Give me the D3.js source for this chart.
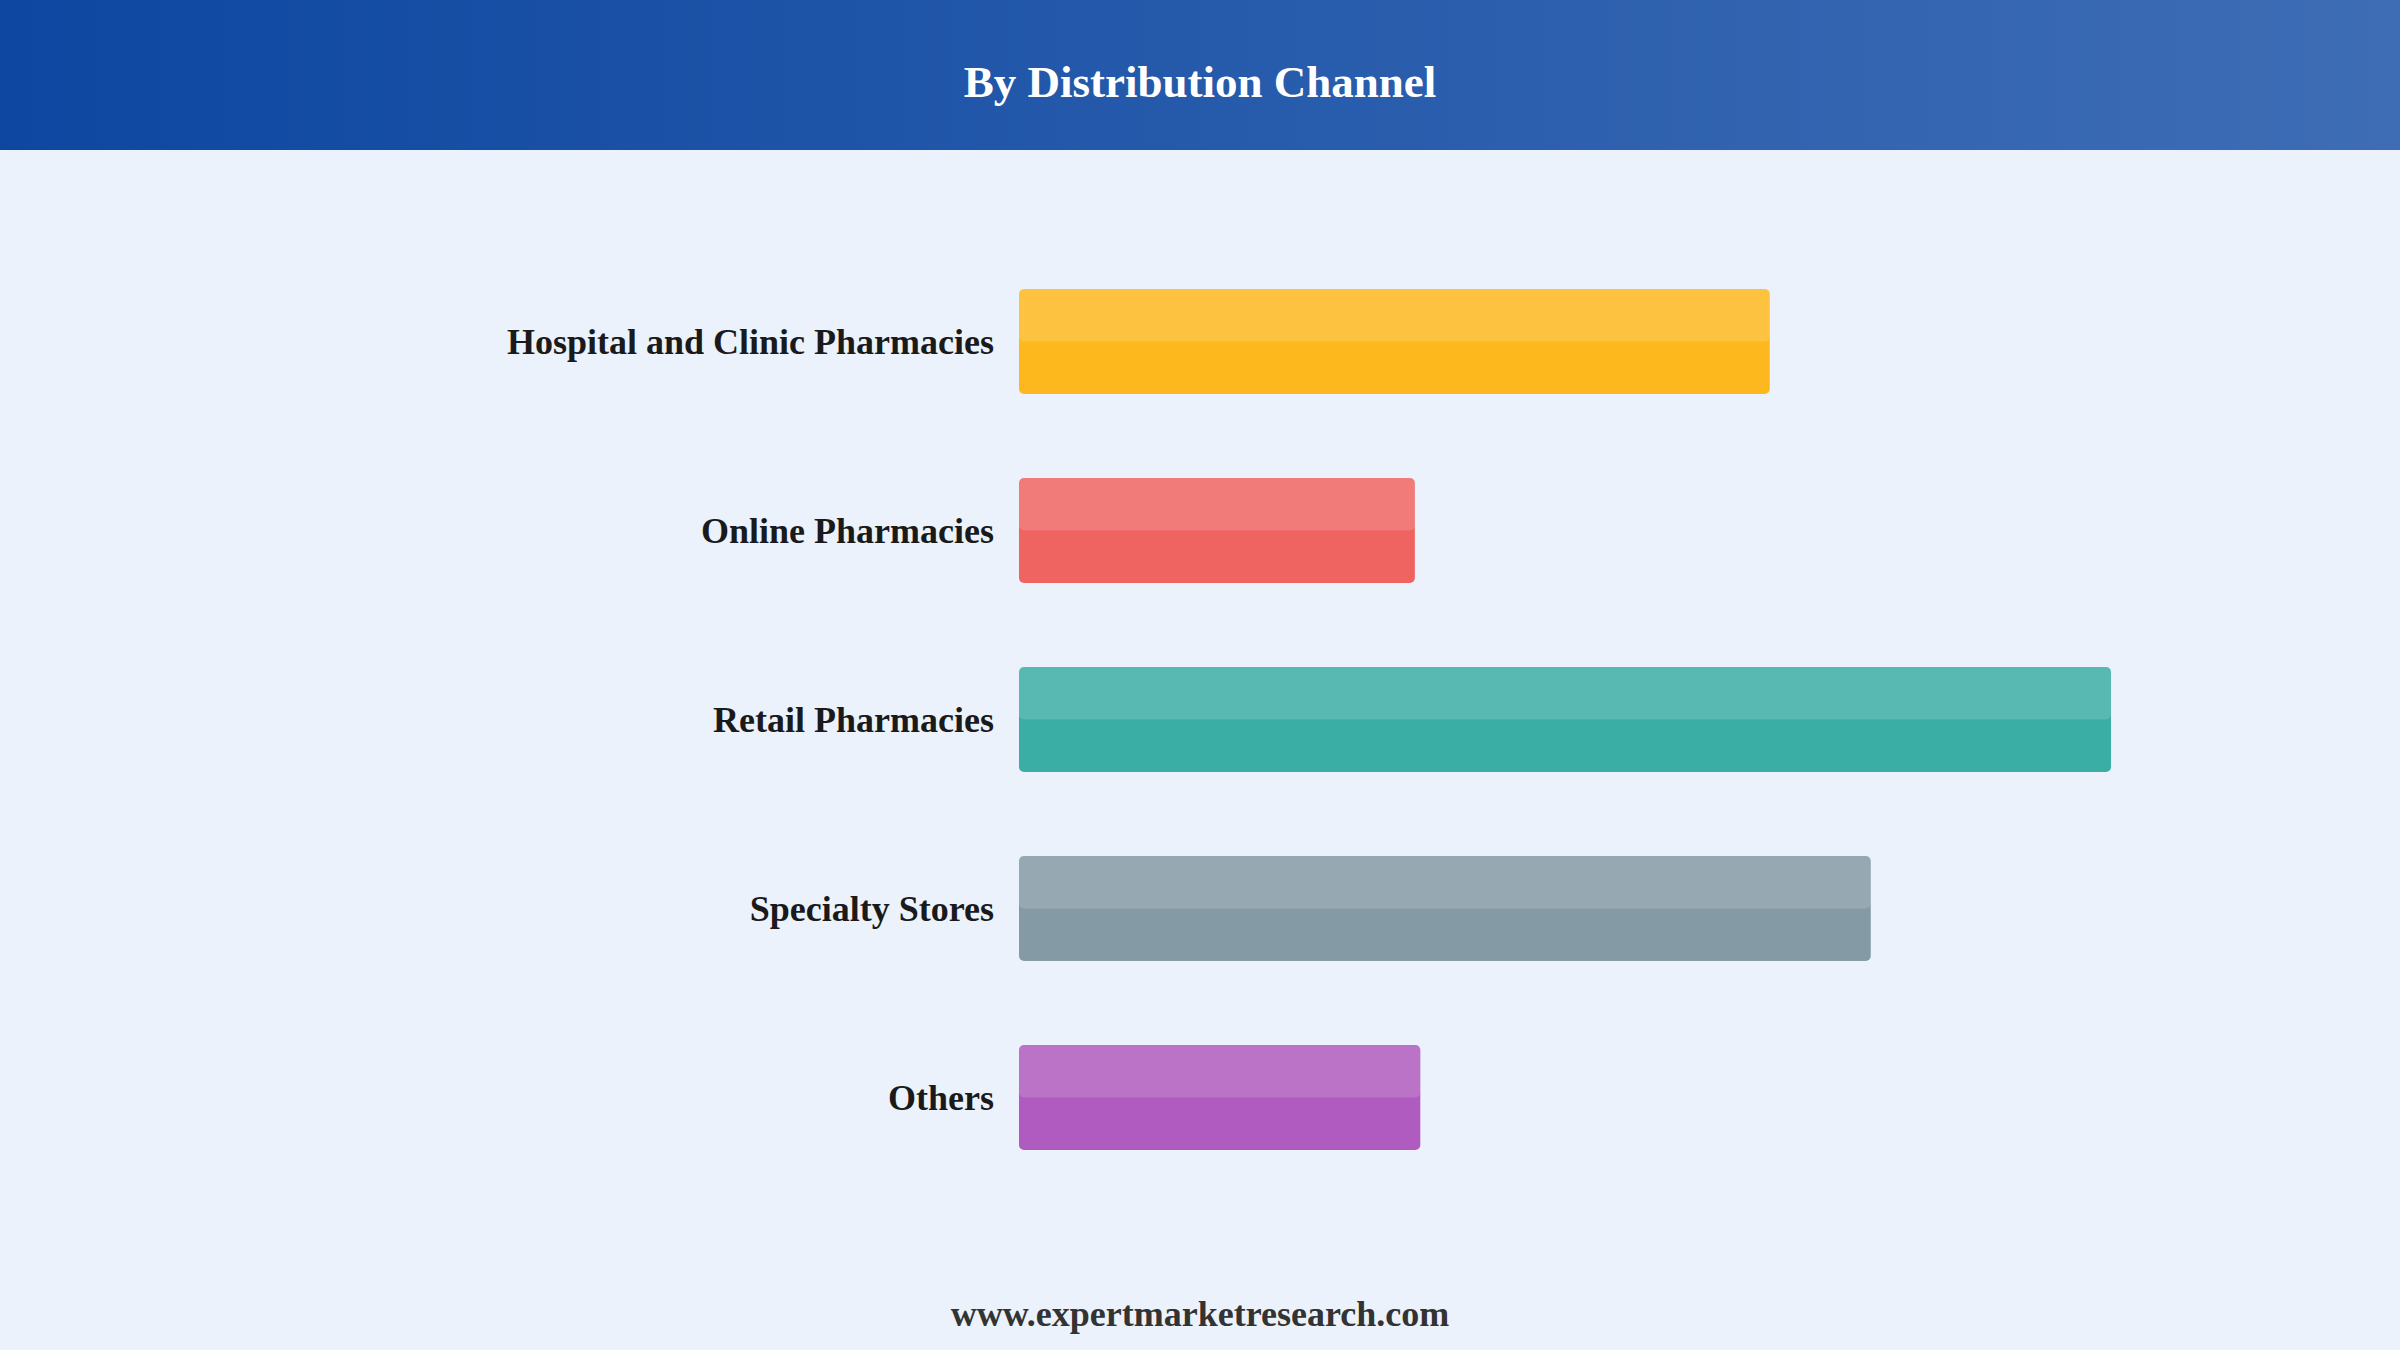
<!DOCTYPE html>
<html>
<head>
<meta charset="utf-8">
<script src="https://cdn.jsdelivr.net/npm/d3@7"></script>
<style>
  html, body { margin: 0; padding: 0; background: #ebf2fb; }
  svg { display: block; }
</style>
</head>
<body>
<svg id="chart" width="2400" height="1350"></svg>
<script>
// ---- data ----
const categories = ["Hospital and Clinic Pharmacies", "Online Pharmacies", "Retail Pharmacies", "Specialty Stores", "Others"];
const values = [27.5, 14.5, 40.0, 31.2, 14.7];
const barColors = ["#fdb81e", "#ef6461", "#3aada4", "#849ba5", "#b05bbf"];
const titleText = "By Distribution Channel";
const footerText = "www.expertmarketresearch.com";

// ---- layout ----
const W = 2400, H = 1350;
const svg = d3.select("#chart");
const serif = "'Liberation Serif', 'Times New Roman', 'DejaVu Serif', serif";

// background
svg.append("rect").attr("width", W).attr("height", H).attr("fill", "#ebf2fb");

// header gradient
const defs = svg.append("defs");
const grad = defs.append("linearGradient").attr("id", "hdr").attr("x1", "0%").attr("x2", "100%").attr("y1", "0%").attr("y2", "0%");
grad.append("stop").attr("offset", "0%").attr("stop-color", "#0d47a1");
grad.append("stop").attr("offset", "100%").attr("stop-color", "#3e6db5");
svg.append("rect").attr("width", W).attr("height", 150).attr("fill", "url(#hdr)");

svg.append("text")
  .attr("x", 1200).attr("y", 97)
  .attr("text-anchor", "middle")
  .attr("font-family", serif).attr("font-weight", "bold").attr("font-size", 45)
  .attr("fill", "#ffffff")
  .text(titleText);

// scales
const y = d3.scaleBand().domain(categories).range([247, 1192]).paddingInner(0.444).paddingOuter(0.222);
const x = d3.scaleLinear().domain([0, 40]).range([1019, 2111]);

const data = categories.map((c, i) => ({ cat: c, val: values[i], color: barColors[i] }));

const g = svg.append("g");
const bars = g.selectAll("g.bar").data(data).enter().append("g").attr("class", "bar");

bars.append("rect")
  .attr("x", x(0))
  .attr("y", d => y(d.cat))
  .attr("width", d => x(d.val) - x(0))
  .attr("height", y.bandwidth())
  .attr("rx", 5).attr("ry", 5)
  .attr("fill", d => d.color);

bars.append("rect")
  .attr("x", x(0))
  .attr("y", d => y(d.cat))
  .attr("width", d => x(d.val) - x(0))
  .attr("height", y.bandwidth() / 2)
  .attr("rx", 5).attr("ry", 5)
  .attr("fill", "#ffffff").attr("fill-opacity", 0.15);

bars.append("text")
  .attr("x", x(0) - 25)
  .attr("y", d => y(d.cat) + y.bandwidth() / 2 + 12.5)
  .attr("text-anchor", "end")
  .attr("font-family", serif).attr("font-weight", "bold").attr("font-size", 36)
  .attr("fill", "#1a1a1a")
  .text(d => d.cat);

// footer
svg.append("text")
  .attr("x", 1200).attr("y", 1326)
  .attr("text-anchor", "middle")
  .attr("font-family", serif).attr("font-weight", "bold").attr("font-size", 36)
  .attr("fill", "#333333")
  .text(footerText);
</script>
</body>
</html>
